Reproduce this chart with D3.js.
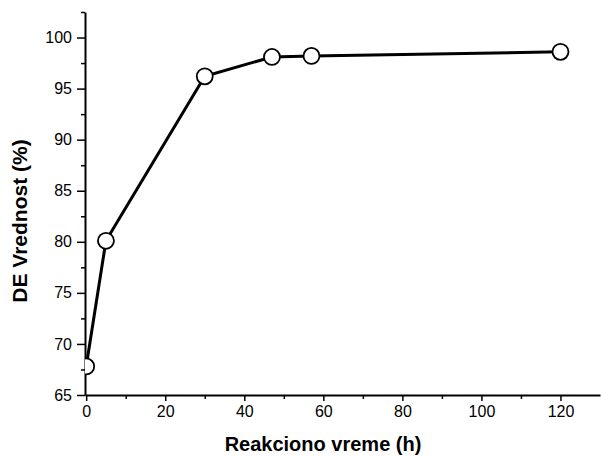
<!DOCTYPE html>
<html>
<head>
<meta charset="utf-8">
<script src="https://cdn.jsdelivr.net/npm/d3@7"></script>
<style>
  body { margin: 0; background: #fff; }
  svg { display: block; font-family: "Liberation Sans", Arial, sans-serif; }
</style>
</head>
<body>
<div class="chart"></div>
<script>
(function(){
  // reaction time (h) and DE value (%)
  var times = [0, 5, 30, 47, 57, 120];
  var deValues = [67.8, 80.1, 96.2, 98.1, 98.2, 98.6];
  var xTicks = [0, 20, 40, 60, 80, 100, 120];
  var yTicks = [65, 70, 75, 80, 85, 90, 95, 100];
  var xMinor = [10, 30, 50, 70, 90, 110];
  var yMinor = [67.5, 72.5, 77.5, 82.5, 87.5, 92.5, 97.5, 102.5];

  var width = 602, height = 457;
  var svg = d3.select('.chart').append('svg').attr('width', width).attr('height', height);

  var x = d3.scaleLinear().domain([-0.3, 130]).range([85, 600]);
  var y = d3.scaleLinear().domain([65, 102.5]).range([395, 12]);

  svg.append('clipPath').attr('id', 'plotclip')
    .append('rect').attr('x', 85).attr('y', 0).attr('width', 520).attr('height', 395);

  // minor ticks
  svg.append('g').attr('transform', 'translate(0,395)')
    .call(d3.axisBottom(x).tickValues(xMinor).tickSize(4).tickFormat(''))
    .call(function(g){ g.select('.domain').remove(); g.selectAll('line').attr('stroke-width', 1.5); });
  svg.append('g').attr('transform', 'translate(85,0)')
    .call(d3.axisLeft(y).tickValues(yMinor).tickSize(4).tickFormat(''))
    .call(function(g){ g.select('.domain').remove(); g.selectAll('line').attr('stroke-width', 1.5); });

  // major axes
  var xAxis = svg.append('g').attr('transform', 'translate(0,395)')
    .call(d3.axisBottom(x).tickValues(xTicks).tickSize(6).tickPadding(5).tickSizeOuter(0));
  var yAxis = svg.append('g').attr('transform', 'translate(85,0)')
    .call(d3.axisLeft(y).tickValues(yTicks).tickSize(8).tickPadding(5).tickSizeOuter(0));

  [xAxis, yAxis].forEach(function(g){
    g.attr('font-size', 16).attr('font-family', '"Liberation Sans", Arial, sans-serif');
    g.select('.domain').attr('stroke-width', 2);
    g.selectAll('.tick line').attr('stroke-width', 1.5);
    g.selectAll('.tick text').attr('fill', '#000');
  });

  var pts = times.map(function(t, i){ return [t, deValues[i]]; });

  var plot = svg.append('g').attr('clip-path', 'url(#plotclip)');
  plot.append('path').datum(pts)
    .attr('fill', 'none').attr('stroke', '#000').attr('stroke-width', 3)
    .attr('d', d3.line().x(function(d){ return x(d[0]); }).y(function(d){ return y(d[1]); }));

  plot.selectAll('circle').data(pts).enter()
    .append('circle')
    .attr('cx', function(d){ return x(d[0]); })
    .attr('cy', function(d){ return y(d[1]); })
    .attr('r', 8)
    .attr('fill', '#fff')
    .attr('stroke', '#000')
    .attr('stroke-width', 1.8);

  svg.append('text')
    .attr('x', 323).attr('y', 451)
    .attr('text-anchor', 'middle')
    .attr('font-size', 20).attr('font-weight', 'bold')
    .text('Reakciono vreme (h)');

  svg.append('text')
    .attr('transform', 'translate(27,221) rotate(-90)')
    .attr('text-anchor', 'middle')
    .attr('font-size', 21).attr('font-weight', 'bold')
    .text('DE Vrednost (%)');
}).call(this);
</script>
</body>
</html>
